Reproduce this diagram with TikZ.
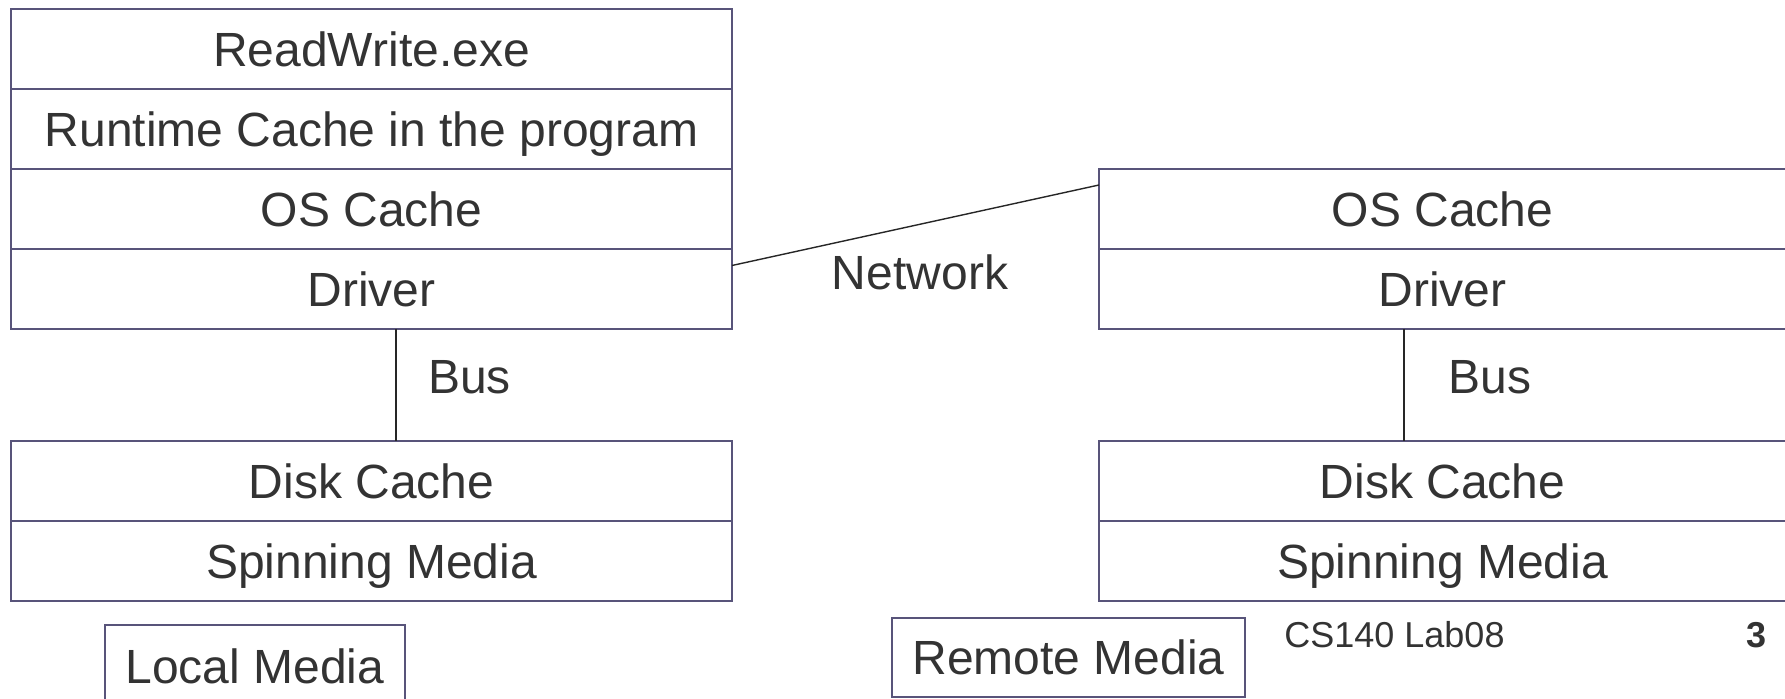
\documentclass[tikz,border=0pt]{standalone}
\usepackage{fontspec}
\setmainfont{Liberation Sans}
\usetikzlibrary{positioning}
\definecolor{layerline}{RGB}{88,84,122}
\definecolor{textgray}{RGB}{51,51,51}

\begin{document}
\begin{tikzpicture}[x=0.5pt, y=-0.5pt,
		layer/.style={draw=layerline, line width=1pt, outer sep=0pt, inner sep=0pt,
			minimum width=360.5pt, minimum height=40pt, text=textgray,
			font=\fontsize{24}{28}\selectfont, text height=17.2pt, text depth=0pt},
		rlayer/.style={layer, minimum width=343.5pt},
		tag/.style={layer, line width=0.7pt},
		lbl/.style={text=textgray, inner sep=0pt, font=\fontsize{24}{28}\selectfont,
			text height=17.2pt, text depth=0pt},
		wire/.style={draw=black!85, line width=0.7pt}]
			%%%%% START %%%%%
			\useasboundingbox (0,0) rectangle (1785,699);
			
			% local machine
			\node[layer] (rw) at (371.5, 49) {ReadWrite.exe};
			\node[layer, below=0pt of rw] (rtc) {Runtime Cache in the program};
			\node[layer, below=0pt of rtc] (los) {OS Cache};
			\node[layer, below=0pt of los] (ldrv) {Driver};
			
			\node[layer] (ldisk) at (371.5, 481) {Disk Cache};
			\node[layer, below=0pt of ldisk] (lspin) {Spinning Media};
			
			\draw[wire] ([xshift=12.25pt]ldrv.south) -- ([xshift=12.25pt]ldisk.north);
			\node[lbl] (lbus) at (469.5, 376) {Bus};
			
			\node[tag, minimum width=150pt, minimum height=41pt] (local) at (255, 666) {Local Media};
			
			% remote machine
			\node[rlayer] (ros) at (1442.5, 209) {OS Cache};
			\node[rlayer, below=0pt of ros] (rdrv) {Driver};
			
			\node[rlayer] (rdisk) at (1442.5, 481) {Disk Cache};
			\node[rlayer, below=0pt of rdisk] (rspin) {Spinning Media};
			
			\draw[wire] ([xshift=-19.25pt]rdrv.south) -- ([xshift=-19.25pt]rdisk.north);
			\node[lbl] (rbus) at (1490, 376) {Bus};
			
			\node[tag, minimum width=176.5pt, minimum height=39.5pt] (remote) at (1068.5, 657.5) {Remote Media};
			
			% network
			\draw[wire] ([yshift=11.75pt]ldrv.east) -- ([yshift=12pt]ros.west);
			\node[lbl] (net) at (920, 272.5) {Network};
			
			% footer
			\node[lbl, font=\fontsize{18}{22}\selectfont, text height=12.9pt] (foot) at (1394.5, 635) {CS140 Lab08};
			\node[lbl, font=\fontsize{18}{22}\selectfont\bfseries, text height=12.9pt] (page) at (1756.5, 635) {3};
			
			%%%%% END %%%%%
\end{tikzpicture}
\end{document}
